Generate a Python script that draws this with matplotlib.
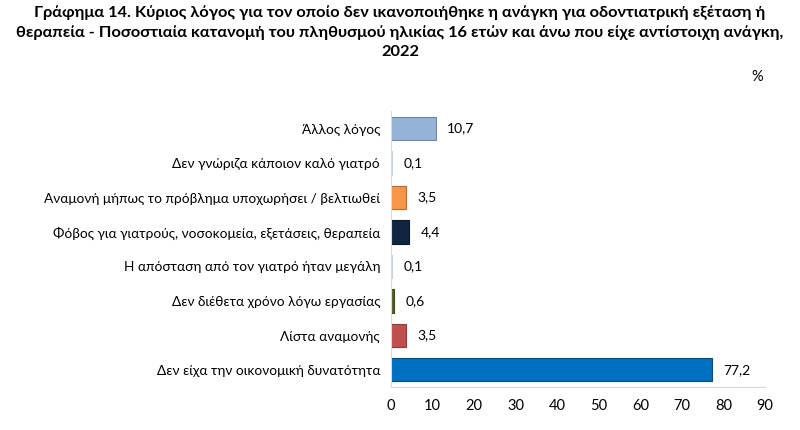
import matplotlib.pyplot as plt

plt.rcParams['font.family'] = ['Lato', 'DejaVu Sans']

categories = [
    "Άλλος λόγος",
    "Δεν γνώριζα κάποιον καλό γιατρό",
    "Αναμονή μήπως το πρόβλημα υποχωρήσει / βελτιωθεί",
    "Φόβος για γιατρούς, νοσοκομεία, εξετάσεις, θεραπεία",
    "Η απόσταση από τον γιατρό ήταν μεγάλη",
    "Δεν διέθετα χρόνο λόγω εργασίας",
    "Λίστα αναμονής",
    "Δεν είχα την οικονομική δυνατότητα",
]
values = [10.7, 0.1, 3.5, 4.4, 0.1, 0.6, 3.5, 77.2]
labels = ["10,7", "0,1", "3,5", "4,4", "0,1", "0,6", "3,5", "77,2"]
colors = ["#95B3D7", "#DCE6F2", "#F79646", "#10253F", "#DCE6F2", "#4F6228", "#C0504D", "#0070C0"]
edges = ["#6E87A6", "#C8D2DE", "#B86A2E", "#0A1828", "#C8D2DE", "#3A4A1C", "#8E3A38", "#0B4A80"]

fig = plt.figure(figsize=(8, 4.3), dpi=100)
ax = fig.add_axes([0.489, 0.10, 0.467, 0.641])

y = list(range(len(categories)))
ax.barh(y, values, height=0.68, color=colors, edgecolor=edges, linewidth=0.8)
for yi, v, lab in zip(y, values, labels):
    ax.text(v + 2.8, yi, lab, va='center', ha='left', fontsize=10)

ax.set_yticks(y)
ax.set_yticklabels(categories, fontsize=9.8)
ax.set_ylim(len(categories) - 0.5, -0.5)
ax.set_xlim(0, 90)
ax.set_xticks(range(0, 91, 10))
ax.tick_params(axis='x', length=0, labelsize=10.5, pad=9)
ax.tick_params(axis='y', length=0, pad=8)
for s in ['top', 'right']:
    ax.spines[s].set_visible(False)
ax.spines['left'].set_color('#D9D9D9')
ax.spines['bottom'].set_color('#D9D9D9')

fig.text(0.5, 0.988,
         "Γράφημα 14. Κύριος λόγος για τον οποίο δεν ικανοποιήθηκε η ανάγκη για οδοντιατρική εξέταση ή\n"
         "θεραπεία - Ποσοστιαία κατανομή του πληθυσμού ηλικίας 16 ετών και άνω που είχε αντίστοιχη ανάγκη,\n"
         "2022",
         ha='center', va='top', fontsize=11.8, fontweight='bold', linespacing=1.45)
fig.text(0.946, 0.82, "%", ha='center', va='center', fontsize=10.5)

fig.savefig("out.png", dpi=100)
